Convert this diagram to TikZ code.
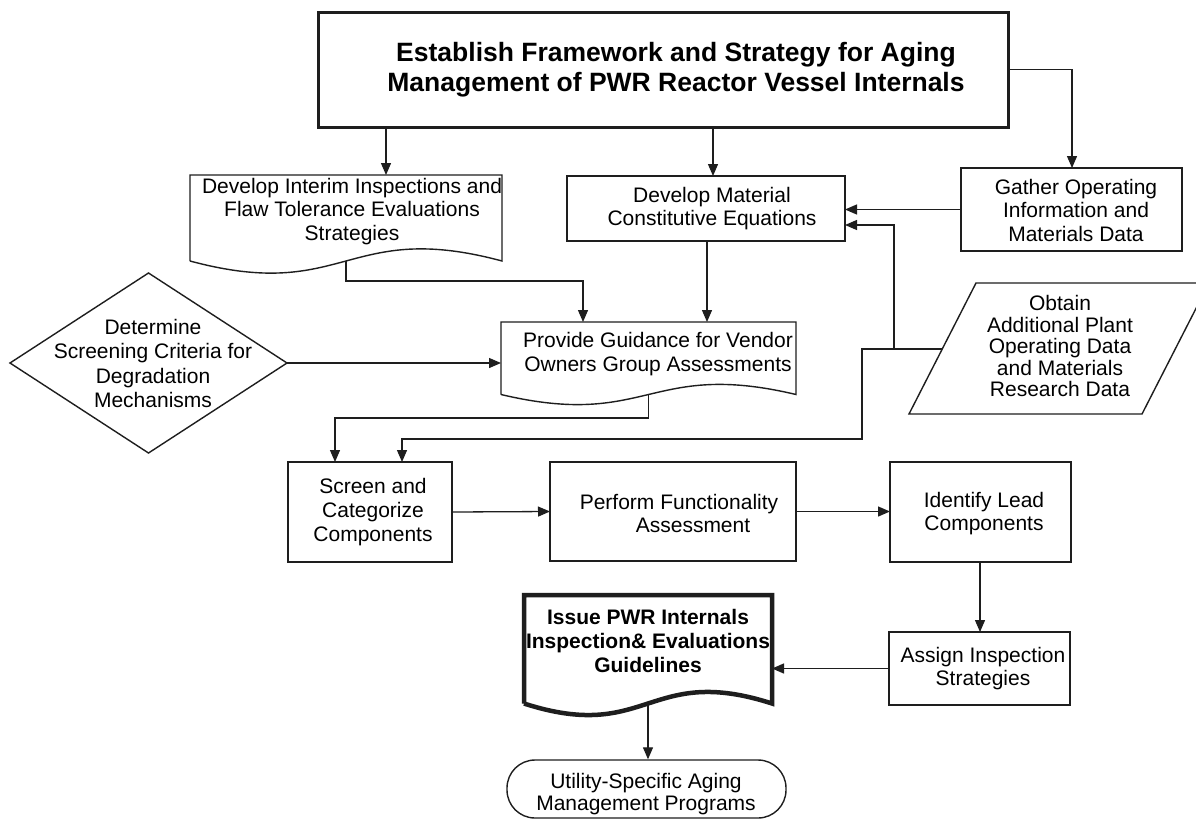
\documentclass[tikz,border=0pt]{standalone}
\usepackage{fontspec}
\setmainfont{Liberation Sans}
\usetikzlibrary{arrows.meta,shapes.geometric}
\definecolor{ln}{RGB}{30,30,30}
\tikzset{
  boxshape/.style={draw=ln, line width=1.4pt, rectangle, inner sep=0pt, outer sep=0pt},
  blank/.style={inner sep=0pt, outer sep=0pt},
  txt/.style={align=center, inner sep=0pt, text=black, font={\fontsize{21pt}{23.5pt}\selectfont}},
  conn/.style={draw=ln, line width=1.3pt, -{Triangle[length=12pt,width=10pt]}},
  outline/.style={draw=ln, line width=1.4pt, line join=miter},
}
\begin{document}
\begin{tikzpicture}[x=1pt,y=-1pt]
\useasboundingbox[fill=white] (0,0) rectangle (1196,822);

% top box
\node[boxshape, line width=3pt, minimum width=690pt, minimum height=115pt] (top) at (663,69.5) {};
\node[txt, font={\bfseries\fontsize{26.5pt}{30pt}\selectfont}] (toptxt) at (676,70) {Establish Framework and Strategy for Aging\\Management of PWR Reactor Vessel Internals};

% interim document
\node[blank, minimum width=312pt, minimum height=86pt] (interim) at (346,218) {};
\draw[outline] (interim.south west) -- (interim.north west) -- (interim.north east) -- (interim.south east) .. controls +(-156,-42) and +(156,42) .. (interim.south west);
\node[txt] (interimtxt) at (352,211.5) {Develop Interim Inspections and\\Flaw Tolerance Evaluations\\Strategies};

% develop material
\node[boxshape, minimum width=278pt, minimum height=65pt] (dm) at (706,208.5) {};
\node[txt] (dmtxt) at (712,208.5) {Develop Material\\Constitutive Equations};

% gather
\node[boxshape, minimum width=221pt, minimum height=83pt] (gather) at (1071.5,209.5) {};
\node[txt] (gathertxt) at (1076,210) {Gather Operating\\Information and\\Materials Data};

% diamond
\node[draw=ln, line width=1.4pt, diamond, minimum width=277pt, minimum height=180pt, inner sep=0pt, outer sep=0pt] (diam) at (148.5,363) {};
\node[txt, font={\fontsize{21pt}{24.3pt}\selectfont}] (diamtxt) at (153,363.5) {Determine\\Screening Criteria for\\Degradation\\Mechanisms};

% provide guidance document
\node[blank, minimum width=295pt, minimum height=72.5pt] (pg) at (648.5,358.25) {};
\draw[outline] (pg.south west) -- (pg.north west) -- (pg.north east) -- (pg.south east) .. controls +(-147.5,-35) and +(147.5,35) .. (pg.south west);
\node[txt] (pgtxt) at (658,354) {Provide Guidance for Vendor\\Owners Group Assessments};

% obtain parallelogram
\coordinate (obBL) at (909,414);
\coordinate (obTL) at (976,283);
\coordinate (obTR) at (1209,283);
\coordinate (obBR) at (1142,414);
\draw[outline] (obBL) -- (obTL) -- (obTR) -- (obBR) -- cycle;
\node[txt, font={\fontsize{21pt}{21.5pt}\selectfont}] (obtain) at (1060,346) {Obtain\\Additional Plant\\Operating Data\\and Materials\\Research Data};
\coordinate (obtainL) at (942,349);

% screen
\node[boxshape, minimum width=164pt, minimum height=100pt] (screen) at (370,512) {};
\node[txt, font={\fontsize{21pt}{24pt}\selectfont}] (screentxt) at (373,512) {Screen and\\Categorize\\Components};

% perform
\node[boxshape, minimum width=246pt, minimum height=99pt] (perform) at (673,511.5) {};
\node[txt] (performtxt) at (679,513.5) {Perform Functionality\\\hspace*{28pt}Assessment};

% identify
\node[boxshape, minimum width=181pt, minimum height=100pt] (identify) at (980.5,512) {};
\node[txt] (identifytxt) at (984,513.5) {Identify Lead\\Components};

% assign
\node[boxshape, minimum width=181pt, minimum height=73pt] (assign) at (979.5,668.5) {};
\node[txt] (assigntxt) at (983,668.5) {Assign Inspection\\Strategies};

% issue document (thick)
\node[blank, minimum width=248pt, minimum height=108.5pt] (issue) at (648,649.25) {};
\node[txt, font={\bfseries\fontsize{21pt}{24pt}\selectfont}] (issuetxt) at (648,641) {Issue PWR Internals\\Inspection\& Evaluations\\Guidelines};
\draw[draw=ln, line width=4.5pt, line join=miter] (issue.south west) -- (issue.north west) -- (issue.north east) -- (issue.south east) .. controls +(-124,-40) and +(124,40) .. (issue.south west);

% utility terminal
\node[draw=ln, line width=1.4pt, rounded corners=28pt, minimum width=279pt, minimum height=58pt, inner sep=0pt] (utility) at (646.5,789) {};
\node[txt, font={\fontsize{21pt}{22pt}\selectfont}] (utilitytxt) at (646,794) {Utility-Specific Aging\\Management Programs};

% connectors
\draw[conn] (top.south -| 386,0) -- (interim.north -| 386,0);
\draw[conn] (top.south -| 713,0) -- (dm.north -| 713,0);
\draw[conn] (top.east) -| (gather.north -| 1072,0);
\draw[conn] (gather.west) -- (gather.west -| dm.east);
\draw[conn] (obtainL) -- (894,349) |- (dm.east |- 0,225);
\draw[conn] (obtainL) -| (862,439) -| (screen.north -| 402,0);
\draw[conn] (interim.south) |- (583,281) -- (pg.north -| 583,0);
\draw[conn] (dm.south -| 707,0) -- (pg.north -| 707,0);
\draw[conn] (diam.east) -- (diam.east -| pg.west);
\draw[conn] (pg.south) |- (335,418) -- (screen.north -| 335,0);
\draw[conn] (screen.east) -- (perform.west);
\draw[conn] (perform.east) -- (perform.east -| identify.west);
\draw[conn] (identify.south -| 980,0) -- (assign.north -| 980,0);
\draw[conn] (assign.west) -- (assign.west -| issue.east);
\draw[conn] (issue.south) -- (utility.north -| issue.south);
\end{tikzpicture}
\end{document}
